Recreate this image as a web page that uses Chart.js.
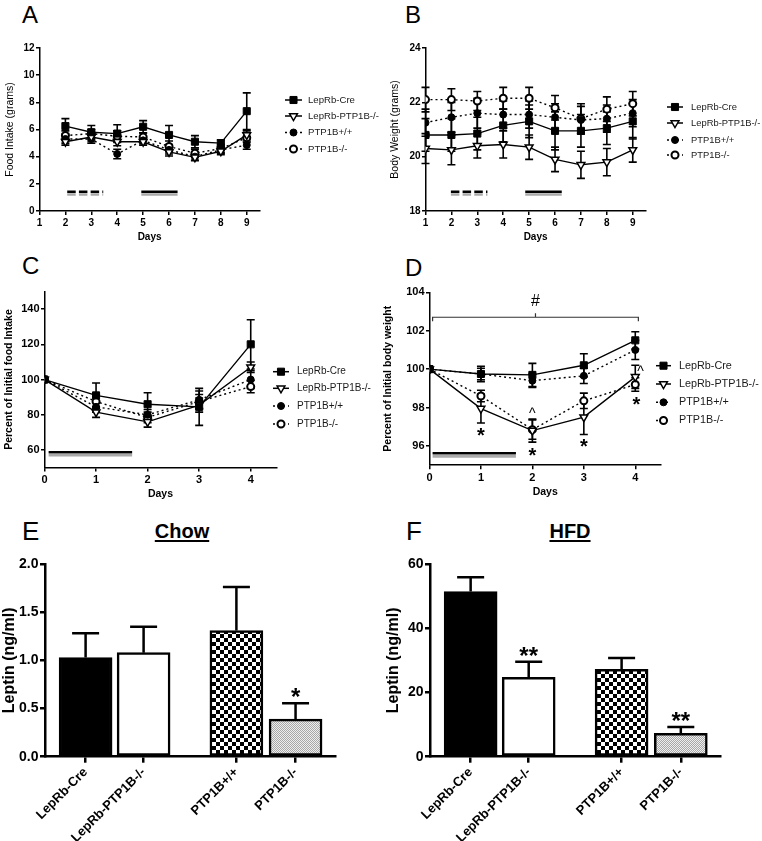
<!DOCTYPE html>
<html><head><meta charset="utf-8">
<script src="https://cdn.jsdelivr.net/npm/chart.js@4.4.1/dist/chart.umd.min.js"></script>
<style>
html,body{margin:0;padding:0;background:#fff;}
body{width:762px;height:841px;position:relative;overflow:hidden;font-family:"Liberation Sans",Arial,sans-serif;}
canvas{position:absolute;}
.lbl{position:absolute;font-size:24px;line-height:1;color:#000;}
.ttl{position:absolute;font-weight:bold;font-size:20px;line-height:1;text-decoration:underline;transform:translateX(-50%);text-underline-offset:2px;}
</style></head><body>
<div class="lbl" style="left:22px;top:3px">A</div>
<div class="lbl" style="left:405px;top:3px">B</div>
<div class="lbl" style="left:22px;top:254px">C</div>
<div class="lbl" style="left:405px;top:256px">D</div>
<div class="lbl" style="left:22px;top:518px;font-size:26px">E</div>
<div class="lbl" style="left:406px;top:518px;font-size:26px">F</div>
<div class="ttl" style="left:182px;top:521px">Chow</div>
<div class="ttl" style="left:570px;top:521px">HFD</div>
<script>
// ---------------- DATA ----------------
const seriesNames = ['LepRb-Cre', 'LepRb-PTP1B-/-', 'PTP1B+/+', 'PTP1B-/-'];

// Panel A: food intake (grams)
const daysA = [2, 3, 4, 5, 6, 7, 8, 9];
const creA = [6.25, 5.8, 5.7, 6.2, 5.6, 5.1, 5.0, 7.35];
const creAErr = [0.55, 0.5, 0.65, 0.45, 0.7, 0.45, 0.25, 1.35];
const lepkoA = [5.1, 5.45, 5.1, 5.1, 4.35, 3.95, 4.4, 5.6];
const lepkoAErr = [0.25, 0.3, 0.3, 0.25, 0.3, 0.25, 0.25, 0.3];
const wtA = [5.3, 5.3, 4.2, 5.2, 4.5, 4.0, 4.5, 4.85];
const wtAErr = [0.3, 0.3, 0.35, 0.25, 0.3, 0.25, 0.25, 0.3];
const koA = [5.55, 5.7, 5.5, 5.45, 4.75, 4.25, 4.6, 5.4];
const koAErr = [0.35, 0.3, 0.4, 0.3, 0.4, 0.3, 0.3, 0.35];
const ticksA = [0, 2, 4, 6, 8, 10, 12];
const treatA = [[2.07, 3.46, true], [4.93, 6.33, false]];

// Panel B: body weight (grams)
const daysB = [1, 2, 3, 4, 5, 6, 7, 8, 9];
const creB = [20.8, 20.8, 20.85, 21.15, 21.3, 20.95, 20.95, 21.05, 21.3];
const creBErr = [0.6, 0.6, 0.6, 0.6, 0.6, 0.7, 0.6, 0.6, 0.65];
const lepkoB = [20.3, 20.25, 20.4, 20.45, 20.35, 19.9, 19.7, 19.8, 20.25];
const lepkoBErr = [0.55, 0.55, 0.45, 0.5, 0.45, 0.45, 0.5, 0.5, 0.45];
const wtB = [21.25, 21.45, 21.6, 21.55, 21.55, 21.45, 21.35, 21.4, 21.6];
const wtBErr = [0.5, 0.55, 0.55, 0.5, 0.5, 0.5, 0.5, 0.5, 0.5];
const koB = [22.1, 22.1, 22.05, 22.15, 22.15, 21.8, 21.4, 21.75, 21.95];
const koBErr = [0.45, 0.4, 0.35, 0.4, 0.4, 0.45, 0.55, 0.45, 0.45];
const ticksB = [18, 20, 22, 24];
const treatB = [[1.98, 3.39, true], [4.85, 6.26, false]];

// Panel C: percent of initial food intake
const daysC = [0, 1, 2, 3, 4];
const creC = [100, 91, 86, 84.5, 120];
const creCErr = [0, 7, 6.5, 10.5, 14];
const lepkoC = [100, 81.5, 76, 85.5, 107];
const lepkoCErr = [0, 3, 3, 4, 3];
const wtC = [100, 84.5, 80, 88.5, 100];
const wtCErr = [0, 3, 3, 5, 5];
const koC = [100, 87.5, 78.5, 87.5, 96];
const koCErr = [0, 4, 3, 4, 3.5];
const ticksC = [60, 80, 100, 120, 140];
const treatC = [[0.08, 1.7, false]];

// Panel D: percent of initial body weight
const daysD = [0, 1, 2, 3, 4];
const creD = [100, 99.75, 99.7, 100.2, 101.5];
const creDErr = [0, 0.4, 0.6, 0.6, 0.45];
const lepkoD = [100, 97.95, 96.8, 97.5, 99.6];
const lepkoDErr = [0, 0.75, 0.6, 0.9, 0.6];
const wtD = [100, 99.75, 99.4, 99.65, 101.0];
const wtDErr = [0, 0.3, 0.35, 0.4, 0.5];
const koD = [100, 98.6, 96.85, 98.35, 99.2];
const koDErr = [0, 0.3, 0.5, 0.4, 0.35];
const ticksD = [96, 98, 100, 102, 104];
const treatD = [[0.06, 1.68, false]];
const marksD = [['*', 1, 96.8], ['^', 2, 97.85], ['*', 2, 95.72], ['*', 3, 96.2], ['^', 4.1, 100.0], ['*', 4.02, 98.4], ['#', 2.06, 103.6]];

// Panels E / F: leptin (ng/ml)
const barNames = ['LepRb-Cre', 'LepRb-PTP1B-/-', 'PTP1B+/+', 'PTP1B-/-'];
const leptinChow = [1.03, 1.08, 1.31, 0.39];
const leptinChowErr = [0.25, 0.27, 0.45, 0.165];
const leptinHFD = [51.4, 24.7, 27.2, 7.3];
const leptinHFDErr = [4.5, 4.9, 3.5, 1.95];
const starsChow = ['', '', '', '*'];
const starsHFD = ['', '**', '', '**'];

// ---------------- LAYOUT / STYLE ----------------
const FONT = '"Liberation Sans", Arial, sans-serif';
Chart.defaults.font.family = FONT;
Chart.defaults.color = '#000';
const barSlots = [0.7, 1.7, 3.3, 4.32];

const pointStyles = [
  {pointStyle: 'rect', pointRadius: 5, pointBackgroundColor: '#000', pointBorderColor: '#000', pointBorderWidth: 1, borderDash: []},
  {pointStyle: 'triangle', pointRotation: 180, pointRadius: 4.5, pointBackgroundColor: '#fff', pointBorderColor: '#000', pointBorderWidth: 1.5, borderDash: []},
  {pointStyle: 'circle', pointRadius: 3.5, pointBackgroundColor: '#000', pointBorderColor: '#000', pointBorderWidth: 1, borderDash: [2, 3]},
  {pointStyle: 'circle', pointRadius: 3.5, pointBackgroundColor: '#fff', pointBorderColor: '#000', pointBorderWidth: 2, borderDash: [2, 3]}
];

const errorBars = {
  id: 'errorBars',
  drawErr(chart, after) {
    const ctx = chart.ctx, ys = chart.scales.y;
    chart.data.datasets.forEach((ds, di) => {
      if (!ds.err || !!ds.errAfter !== after) return;
      const meta = chart.getDatasetMeta(di);
      ctx.save();
      ctx.strokeStyle = '#000'; ctx.lineWidth = ds.errWidth || 1.6; ctx.setLineDash([]);
      meta.data.forEach((el, i) => {
        const e = ds.err[i]; if (!e) return;
        const v = ds.data[i].y;
        const x = el.x;
        const yt = ys.getPixelForValue(v + e);
        const yb = ds.errUpOnly ? ys.getPixelForValue(v) : ys.getPixelForValue(v - e);
        const cw = (ds.capWidth || 8) / 2;
        ctx.beginPath();
        ctx.moveTo(x, yt); ctx.lineTo(x, yb);
        ctx.moveTo(x - cw, yt); ctx.lineTo(x + cw, yt);
        if (!ds.errUpOnly) { ctx.moveTo(x - cw, yb); ctx.lineTo(x + cw, yb); }
        ctx.stroke();
      });
      ctx.restore();
    });
  },
  beforeDatasetsDraw(chart) { this.drawErr(chart, false); },
  afterDatasetsDraw(chart) { this.drawErr(chart, true); }
};

const miniLegend = {
  id: 'miniLegend',
  afterDraw(chart, args, o) {
    if (!o || !o.rows) return;
    const ctx = chart.ctx;
    o.rows.forEach((y, i) => {
      const ds = chart.data.datasets[i];
      ctx.save();
      ctx.strokeStyle = '#000'; ctx.lineWidth = 1.5; ctx.setLineDash(ds.borderDash || []);
      ctx.beginPath(); ctx.moveTo(o.x0, y); ctx.lineTo(o.x1, y); ctx.stroke();
      ctx.setLineDash([]);
      ctx.fillStyle = ds.pointBackgroundColor; ctx.strokeStyle = ds.pointBorderColor; ctx.lineWidth = ds.pointBorderWidth;
      Chart.helpers.drawPoint(ctx, {pointStyle: ds.pointStyle, rotation: ds.pointRotation || 0, radius: ds.pointRadius, borderWidth: ds.pointBorderWidth}, (o.x0 + o.x1) / 2, y);
      ctx.fillStyle = '#1a1a1a'; ctx.font = o.size + 'px ' + FONT; ctx.textBaseline = 'middle'; ctx.textAlign = 'left';
      ctx.fillText(ds.label, o.tx, y);
      ctx.restore();
    });
  }
};

const notes = {
  id: 'notes',
  afterDatasetsDraw(chart, args, o) {
    if (!o) return;
    const ctx = chart.ctx, xs = chart.scales.x, ys = chart.scales.y;
    (o.items || []).forEach(it => {
      ctx.save();
      ctx.font = it.font; ctx.fillStyle = '#000'; ctx.textAlign = 'center'; ctx.textBaseline = 'alphabetic';
      ctx.fillText(it.t, xs.getPixelForValue(it.x), ys.getPixelForValue(it.y) + it.dy);
      ctx.restore();
    });
    if (o.bracket) {
      const b = o.bracket;
      const xa = xs.getPixelForValue(b.x0), xb = xs.getPixelForValue(b.x1), xm = xs.getPixelForValue(b.xm);
      const y = ys.getPixelForValue(b.y);
      ctx.save(); ctx.strokeStyle = '#333'; ctx.lineWidth = 1.2;
      ctx.beginPath();
      ctx.moveTo(xa, y + 4); ctx.lineTo(xa, y); ctx.lineTo(xb, y); ctx.lineTo(xb, y + 4);
      ctx.moveTo(xm, y); ctx.lineTo(xm, y - 4);
      ctx.stroke(); ctx.restore();
    }
  }
};
Chart.register(errorBars, miniLegend, notes);

function mkCanvas(r) {
  const c = document.createElement('canvas');
  c.width = r.W; c.height = r.H;
  c.style.left = r.L + 'px'; c.style.top = r.T + 'px';
  c.style.width = r.W + 'px'; c.style.height = r.H + 'px';
  document.body.appendChild(c);
  return c;
}

function lineChart(r, p, o) {
  const c = mkCanvas(r);
  const ds = o.series.map((s, k) => Object.assign({
    label: seriesNames[k],
    data: o.xs.map((x, i) => ({x: x, y: s[0][i]})),
    err: s[1],
    borderColor: '#000', borderWidth: 1.4, fill: false, tension: 0
  }, pointStyles[k]));
  o.treat.forEach(t => {
    ds.push({label: '', data: [{x: t[0], y: o.treatY[1]}, {x: t[1], y: o.treatY[1]}], borderColor: '#aaa', borderWidth: 2.6, borderDash: t[2] ? [8.5, 3.2] : [], pointRadius: 0, borderCapStyle: 'butt'});
    ds.push({label: '', data: [{x: t[0], y: o.treatY[0]}, {x: t[1], y: o.treatY[0]}], borderColor: '#000', borderWidth: 2.6, borderDash: t[2] ? [8.5, 3.2] : [], pointRadius: 0, borderCapStyle: 'butt'});
  });
  const L = o.legend;
  new Chart(c, {
    type: 'line',
    data: {datasets: ds},
    options: {
      responsive: false, devicePixelRatio: 1, animation: false,
      layout: {padding: {left: 0, top: p.y0 - r.T, right: r.L + r.W - p.x1, bottom: 0}},
      plugins: {
        legend: {display: false}, tooltip: {enabled: false},
        miniLegend: {x0: L.x0 - r.L, x1: L.x1 - r.L, tx: L.tx - r.L, rows: L.rows.map(y => y - r.T), size: L.size},
        notes: o.notes || {}
      },
      scales: {
        x: {
          type: 'linear', min: o.xmin, max: o.xmax,
          afterBuildTicks: s => { s.ticks = o.xs0.map(v => ({value: v})); },
          afterFit: s => { s.height = r.T + r.H - p.y1; },
          grid: {drawOnChartArea: false, drawTicks: true, tickLength: 4, tickColor: '#000', lineWidth: 1.5},
          border: {display: true, color: '#000', width: 1.5},
          ticks: {font: {size: o.tickSize, weight: 'bold'}, padding: 2, autoSkip: false, maxRotation: 0},
          title: {display: true, text: 'Days', font: {size: o.daysSize, weight: 'bold'}, padding: {top: 0, bottom: o.daysPad}}
        },
        y: {
          type: 'linear', min: o.ymin, max: o.ymax,
          afterBuildTicks: s => { s.ticks = o.yticks.map(v => ({value: v})); },
          afterFit: s => { s.width = p.x0 - r.L; },
          grid: {drawOnChartArea: false, drawTicks: true, tickLength: 3.5, tickColor: '#000', lineWidth: 1.5},
          border: {display: true, color: '#000', width: 1.5},
          ticks: {font: {size: o.tickSize, weight: 'bold'}, padding: 1.5},
          title: {display: true, text: o.ytitle, font: {size: 10.5, weight: o.ytitleBold ? 'bold' : 'normal'}, padding: {top: o.ytitlePad, bottom: 0}}
        }
      }
    }
  });
}

function makePattern(kind) {
  const pc = document.createElement('canvas');
  const g = pc.getContext('2d');
  if (kind === 'checker') {
    pc.width = 8; pc.height = 8;
    g.fillStyle = '#fff'; g.fillRect(0, 0, 8, 8);
    g.fillStyle = '#000'; g.fillRect(0, 0, 4, 4); g.fillRect(4, 4, 4, 4);
  } else {
    pc.width = 2; pc.height = 2;
    g.fillStyle = '#eeeeee'; g.fillRect(0, 0, 2, 2);
    g.fillStyle = '#a8a8a8'; g.fillRect(0, 0, 1, 1); g.fillRect(1, 1, 1, 1);
  }
  return document.createElement('canvas').getContext('2d').createPattern(pc, 'repeat');
}

function barChart(r, p, o) {
  const c = mkCanvas(r);
  const pat = [makePattern('checker'), makePattern('stipple')];
  new Chart(c, {
    type: 'bar',
    data: {datasets: [{
      data: barSlots.map((x, i) => ({x: x, y: o.v[i]})),
      err: o.e, errUpOnly: true, errAfter: true, capWidth: 27, errWidth: 2.5,
      backgroundColor: ['#000', '#fff', pat[0], pat[1]],
      borderColor: '#000', borderWidth: 2.5, borderSkipped: false, barThickness: 53
    }]},
    options: {
      responsive: false, devicePixelRatio: 1, animation: false,
      layout: {padding: {left: 0, top: p.y0 - r.T, right: r.L + r.W - p.x1, bottom: 0}},
      plugins: {
        legend: {display: false}, tooltip: {enabled: false},
        notes: {items: o.stars.map((t, i) => ({t: t, x: barSlots[i], y: o.v[i] + o.e[i], dy: -o.starGap, font: 'bold 24px ' + FONT})).filter(it => it.t)}
      },
      scales: {
        x: {
          type: 'linear', min: 0, max: 5, offset: false,
          afterBuildTicks: s => { s.ticks = barSlots.map(v => ({value: v})); },
          afterFit: s => { s.height = r.T + r.H - p.y1; },
          grid: {drawOnChartArea: false, drawTicks: true, tickLength: 6, tickColor: '#000', lineWidth: 2.5, offset: false},
          border: {display: true, color: '#000', width: 2.5},
          ticks: {callback: (v, i) => barNames[i], autoSkip: false, minRotation: 45, maxRotation: 45, font: {size: 13, weight: 'bold'}, padding: 2}
        },
        y: {
          type: 'linear', min: 0, max: o.ymax,
          afterBuildTicks: s => { s.ticks = o.yticks.map(v => ({value: v})); },
          afterFit: s => { s.width = p.x0 - r.L; },
          grid: {drawOnChartArea: false, drawTicks: true, tickLength: 5, tickColor: '#000', lineWidth: 2.5},
          border: {display: true, color: '#000', width: 2.5},
          ticks: {callback: o.fmt, font: {size: 14, weight: 'bold'}, padding: 1.5},
          title: {display: true, text: 'Leptin (ng/ml)', font: {size: 16, weight: 'bold'}, padding: {top: o.ytitlePad, bottom: 0}}
        }
      }
    }
  });
}

// Panel A
lineChart({L: 0, T: 30, W: 381, H: 215}, {x0: 39.5, x1: 259.7, y0: 48, y1: 211}, {
  xs: daysA, xs0: [1, 2, 3, 4, 5, 6, 7, 8, 9], xmin: 1, xmax: 9.5, ymin: 0, ymax: 12, yticks: ticksA,
  series: [[creA, creAErr], [lepkoA, lepkoAErr], [wtA, wtAErr], [koA, koAErr]],
  treat: treatA, treatY: [1.42, 1.22],
  ytitle: 'Food Intake (grams)', ytitleBold: false, ytitlePad: 3.7, tickSize: 10, daysSize: 10, daysPad: 2,
  legend: {x0: 285, x1: 302, tx: 308, rows: [100, 116, 132.5, 149], size: 9.6}
});
// Panel B
lineChart({L: 381, T: 30, W: 381, H: 215}, {x0: 425.5, x1: 645.7, y0: 48, y1: 211}, {
  xs: daysB, xs0: [1, 2, 3, 4, 5, 6, 7, 8, 9], xmin: 1, xmax: 9.5, ymin: 18, ymax: 24, yticks: ticksB,
  series: [[creB, creBErr], [lepkoB, lepkoBErr], [wtB, wtBErr], [koB, koBErr]],
  treat: treatB, treatY: [18.71, 18.61],
  ytitle: 'Body Weight (grams)', ytitleBold: false, ytitlePad: 7.7, tickSize: 10, daysSize: 10, daysPad: 2,
  legend: {x0: 667, x1: 683, tx: 691, rows: [107, 123, 140, 155], size: 9.4}
});
// Panel C
lineChart({L: 0, T: 245, W: 381, H: 255}, {x0: 44.5, x1: 276.5, y0: 291.5, y1: 467.6}, {
  xs: daysC, xs0: [0, 1, 2, 3, 4], xmin: 0, xmax: 4.5, ymin: 50, ymax: 150, yticks: ticksC,
  series: [[creC, creCErr], [lepkoC, lepkoCErr], [wtC, wtCErr], [koC, koCErr]],
  treat: treatC, treatY: [58.7, 57.0],
  ytitle: 'Percent of Initial food Intake', ytitleBold: true, ytitlePad: 2.7, tickSize: 11, daysSize: 10.5, daysPad: 0,
  legend: {x0: 273, x1: 289, tx: 297, rows: [371.7, 388.3, 406, 424], size: 10}
});
// Panel D
lineChart({L: 381, T: 245, W: 381, H: 255}, {x0: 429.5, x1: 661, y0: 292.3, y1: 465.2}, {
  xs: daysD, xs0: [0, 1, 2, 3, 4], xmin: 0, xmax: 4.5, ymin: 95, ymax: 104, yticks: ticksD,
  series: [[creD, creDErr], [lepkoD, lepkoDErr], [wtD, wtDErr], [koD, koDErr]],
  treat: treatD, treatY: [95.62, 95.46],
  ytitle: 'Percent of Initial body weight', ytitleBold: true, ytitlePad: 1.2, tickSize: 11, daysSize: 10.5, daysPad: 1.3,
  legend: {x0: 656, x1: 671, tx: 679, rows: [365.7, 384, 402.3, 420.5], size: 10.8},
  notes: {
    items: marksD.map(m => {
      const sz = m[0] === '*' ? 20 : (m[0] === '^' ? 14 : 16);
      const k = m[0] === '*' ? 0.55 : (m[0] === '^' ? 0.52 : 0.35);
      return {t: m[0], x: m[1], y: m[2], font: (m[0] === '*' ? 'bold ' : '') + sz + 'px ' + FONT, dy: k * sz};
    }),
    bracket: {x0: 0.06, x1: 4.06, xm: 2.06, y: 102.7}
  }
});
// Panel E
barChart({L: 0, T: 550, W: 381, H: 291}, {x0: 45, x1: 335, y0: 564, y1: 756.7}, {
  v: leptinChow, e: leptinChowErr, stars: starsChow, starGap: -2, ymax: 2, yticks: [0, 0.5, 1, 1.5, 2],
  fmt: v => v.toFixed(1), ytitlePad: 0
});
// Panel F
barChart({L: 381, T: 550, W: 381, H: 291}, {x0: 430, x1: 720.3, y0: 564, y1: 756.7}, {
  v: leptinHFD, e: leptinHFDErr, stars: starsHFD, starGap: -2, ymax: 60, yticks: [0, 20, 40, 60],
  fmt: v => String(v), ytitlePad: 2.9
});
</script>
</body></html>
